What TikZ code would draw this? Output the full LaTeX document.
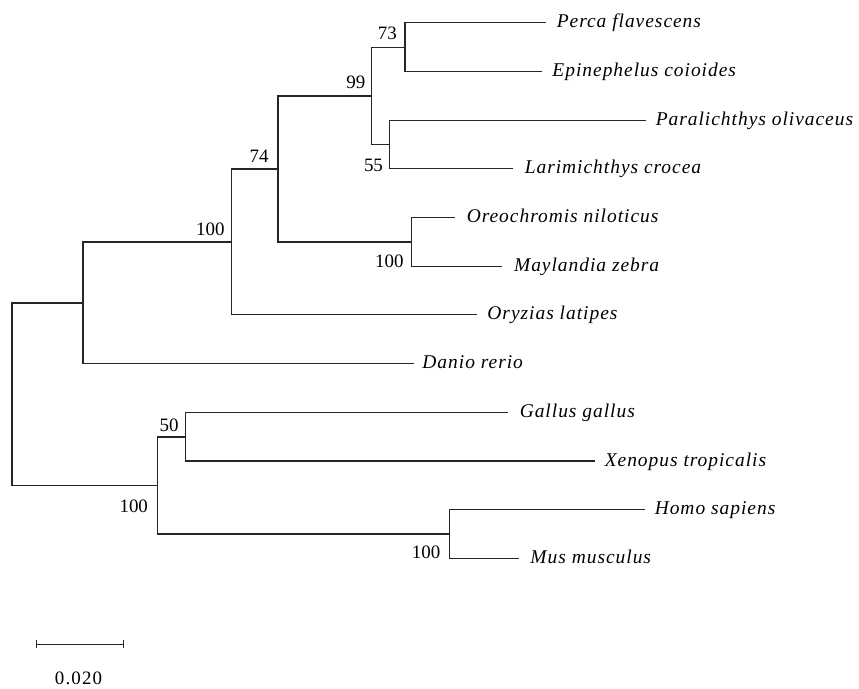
\documentclass[tikz,border=0pt]{standalone}
\usepackage{fontspec}
\setmainfont{Liberation Serif}
\tikzset{
  branch/.style={draw=black!85, line width=0.85pt},
  species/.style={anchor=base west, inner sep=0pt,
    font=\fontsize{14.6}{16}\selectfont\itshape\addfontfeature{LetterSpace=5}},
  boot/.style={anchor=base east, inner sep=0pt, font=\fontsize{14.2}{16}\selectfont},
  scalelbl/.style={anchor=base, inner sep=0pt,
    font=\fontsize{14.2}{16}\selectfont\addfontfeature{LetterSpace=6}}
}
\begin{document}
\begin{tikzpicture}[x=0.75pt,y=-0.75pt]
\useasboundingbox (0,0) rectangle (859,688);
% internal nodes
\coordinate (R) at (12,393.75);
\coordinate (A) at (83,303);
\coordinate (B) at (231.7,242);
\coordinate (C) at (278,169);
\coordinate (D) at (371.3,96);
\coordinate (E) at (405,47.3);
\coordinate (F) at (389.3,144.7);
\coordinate (G) at (411.7,242);
\coordinate (H) at (157.3,485.5);
\coordinate (I) at (185.7,437);
\coordinate (J) at (449.7,534);
% leaves
\coordinate (perca) at (546,22.7);
\coordinate (epi) at (541.7,71.4);
\coordinate (paral) at (645.7,120.1);
\coordinate (larim) at (512.7,168.8);
\coordinate (oreo) at (455,217.5);
\coordinate (mayl) at (502.3,266.2);
\coordinate (oryz) at (476.7,314.9);
\coordinate (danio) at (414.3,363.6);
\coordinate (gallus) at (507.7,412.3);
\coordinate (xeno) at (595,461);
\coordinate (homo) at (645,509.7);
\coordinate (mus) at (519.3,558.4);
% branches
\draw[branch] (R) |- (A);
\draw[branch] (R) |- (H);
\draw[branch] (A) |- (B);
\draw[branch] (A) |- (danio);
\draw[branch] (B) |- (C);
\draw[branch] (B) |- (oryz);
\draw[branch] (C) |- (D);
\draw[branch] (C) |- (G);
\draw[branch] (D) |- (E);
\draw[branch] (D) |- (F);
\draw[branch] (E) |- (perca);
\draw[branch] (E) |- (epi);
\draw[branch] (F) |- (paral);
\draw[branch] (F) |- (larim);
\draw[branch] (G) |- (oreo);
\draw[branch] (G) |- (mayl);
\draw[branch] (H) |- (I);
\draw[branch] (H) |- (J);
\draw[branch] (I) |- (gallus);
\draw[branch] (I) |- (xeno);
\draw[branch] (J) |- (homo);
\draw[branch] (J) |- (mus);
% species labels
\node[species] (tperca) at (556.5,27.7) {Perca flavescens};
\node[species] (tepi) at (552.2,76.4) {Epinephelus coioides};
\node[species] (tparal) at (655.5,125.1) {Paralichthys olivaceus};
\node[species] (tlarim) at (524.5,173.8) {Larimichthys crocea};
\node[species] (toreo) at (466.5,222.5) {Oreochromis niloticus};
\node[species] (tmayl) at (513.8,271.2) {Maylandia zebra};
\node[species] (toryz) at (487.2,319.9) {Oryzias latipes};
\node[species] (tdanio) at (422.2,368.6) {Danio rerio};
\node[species] (tgallus) at (519.5,417.3) {Gallus gallus};
\node[species] (txeno) at (604.5,466) {Xenopus tropicalis};
\node[species] (thomo) at (654.5,514.7) {Homo sapiens};
\node[species] (tmus) at (530.2,563.4) {Mus musculus};
% bootstrap values
\node[boot] (bE) at (397,40) {73};
\node[boot] (bD) at (365.5,88.3) {99};
\node[boot] (bC) at (268.8,162.3) {74};
\node[boot] (bB) at (224.8,235) {100};
\node[boot] (bF) at (383.2,171.7) {55};
\node[boot] (bG) at (403.8,267.7) {100};
\node[boot] (bI) at (178.8,431) {50};
\node[boot] (bH) at (148.2,512.3) {100};
\node[boot] (bJ) at (440.5,558.3) {100};
% scale bar
\coordinate (s1) at (36.7,644.3);
\coordinate (s2) at (123.3,644.3);
\draw[branch] (s1) -- (s2);
\draw[branch] ([yshift=3pt]s1) -- ([yshift=-3pt]s1);
\draw[branch] ([yshift=3pt]s2) -- ([yshift=-3pt]s2);
\node[scalelbl] (slabel) at (78.5,684) {0.020};
\end{tikzpicture}
\end{document}
